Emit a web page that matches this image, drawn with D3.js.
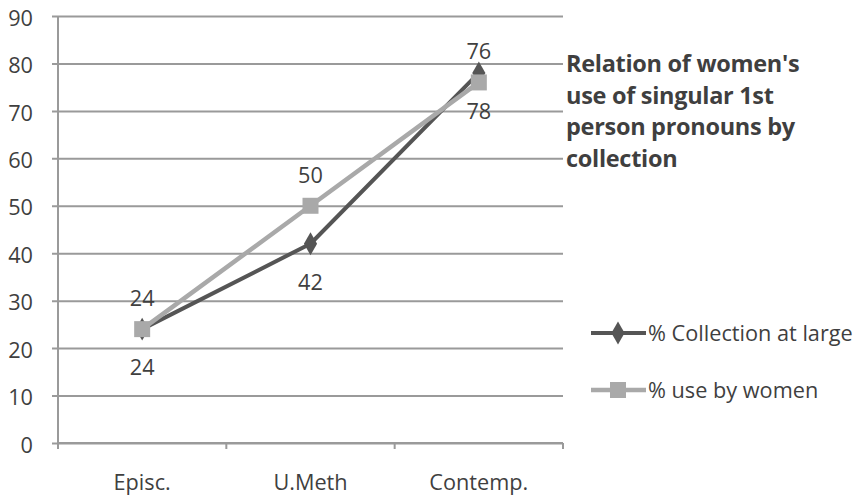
<!DOCTYPE html>
<html>
<head>
<meta charset="utf-8">
<script src="https://cdn.jsdelivr.net/npm/d3@7"></script>
<style>
  html, body { margin: 0; padding: 0; background: #fff; }
  svg { display: block; font-family: "Open Sans", Lato, sans-serif; }
</style>
</head>
<body>
<svg id="chart" width="860" height="495"></svg>
<script>
// Collections compared
const categories = ["Episc.", "U.Meth", "Contemp."];
// Percent values for each series
const collectionAtLarge = [24, 42, 78];
const useByWomen = [24, 50, 76];
const seriesNames = ["% Collection at large", "% use by women"];
const yTicks = [0, 10, 20, 30, 40, 50, 60, 70, 80, 90];
const titleLines = ["Relation of women's", "use of singular 1st", "person pronouns by", "collection"];

const svg = d3.select("#chart");
const plot = { left: 58, right: 563, top: 16, bottom: 443 };
const textColor = "#3f3f3f";
const gridColor = "#9a9a9a";
const darkColor = "#555555";
const lightColor = "#a9a9a9";
const fontSize = 21.7;

const x = d3.scaleBand().domain(categories).range([plot.left, plot.right]).padding(0);
const y = d3.scaleLinear().domain([0, 90]).range([plot.bottom, plot.top]);

// Horizontal gridlines with left tick marks and labels
const yAxis = d3.axisLeft(y).tickValues(yTicks).tickSize(-(plot.right - plot.left)).tickPadding(25);
const gy = svg.append("g").attr("transform", `translate(${plot.left},0)`).call(yAxis);
gy.select(".domain").remove();
gy.selectAll(".tick line").attr("x1", -6).attr("stroke", gridColor).attr("stroke-width", 2);
gy.selectAll(".tick text").attr("fill", textColor).attr("font-size", fontSize)
  .attr("font-family", "Open Sans").attr("dy", "0.42em");

// Vertical axis line
svg.append("line")
  .attr("x1", plot.left).attr("x2", plot.left)
  .attr("y1", plot.top).attr("y2", plot.bottom + 6)
  .attr("stroke", gridColor).attr("stroke-width", 2);

// Category axis with boundary ticks
svg.append("line")
  .attr("x1", plot.left).attr("x2", plot.right)
  .attr("y1", plot.bottom).attr("y2", plot.bottom)
  .attr("stroke", gridColor).attr("stroke-width", 2);
const boundaries = categories.map(c => x(c)).concat([x(categories[categories.length - 1]) + x.bandwidth()]);
svg.append("g").selectAll("line").data(boundaries).join("line")
  .attr("x1", d => d).attr("x2", d => d)
  .attr("y1", plot.bottom).attr("y2", plot.bottom + 6)
  .attr("stroke", gridColor).attr("stroke-width", 2);
svg.append("g").selectAll("text").data(categories).join("text")
  .attr("x", d => x(d) + x.bandwidth() / 2)
  .attr("y", 490)
  .attr("text-anchor", "middle")
  .attr("fill", textColor)
  .attr("font-size", fontSize)
  .text(d => d);

const cx = c => x(c) + x.bandwidth() / 2;
const line = d3.line().x((d, i) => cx(categories[i])).y(d => y(d));

// Series 1: dark line with diamonds
svg.append("path").datum(collectionAtLarge)
  .attr("d", line).attr("fill", "none")
  .attr("stroke", darkColor).attr("stroke-width", 4).attr("stroke-linejoin", "round");
const diamond = d3.symbol().type(d3.symbolDiamond).size(150);
svg.append("g").selectAll("path").data(collectionAtLarge).join("path")
  .attr("transform", (d, i) => `translate(${cx(categories[i])},${y(d)})`)
  .attr("d", diamond).attr("fill", darkColor);

// Series 2: light line with squares
svg.append("path").datum(useByWomen)
  .attr("d", line).attr("fill", "none")
  .attr("stroke", lightColor).attr("stroke-width", 4.5).attr("stroke-linejoin", "round");
svg.append("g").selectAll("rect").data(useByWomen).join("rect")
  .attr("x", (d, i) => cx(categories[i]) - 8)
  .attr("y", d => y(d) - 8)
  .attr("width", 16).attr("height", 16)
  .attr("fill", lightColor);

// Value labels: series 1 below, series 2 above
svg.append("g").selectAll("text").data(collectionAtLarge).join("text")
  .attr("x", (d, i) => cx(categories[i]))
  .attr("y", d => y(d) + 46)
  .attr("text-anchor", "middle").attr("fill", textColor).attr("font-size", fontSize)
  .text(d => d);
svg.append("g").selectAll("text").data(useByWomen).join("text")
  .attr("x", (d, i) => cx(categories[i]))
  .attr("y", d => y(d) - 23)
  .attr("text-anchor", "middle").attr("fill", textColor).attr("font-size", fontSize)
  .text(d => d);

// Title block to the right of the plot
svg.append("text")
  .attr("x", 566).attr("y", 72)
  .attr("fill", textColor).attr("font-size", 23.5).attr("font-weight", "bold")
  .attr("letter-spacing", -0.3)
  .selectAll("tspan").data(titleLines).join("tspan")
  .attr("x", 566).attr("dy", (d, i) => i === 0 ? 0 : 31.7)
  .text(d => d);

// Legend
const legend = svg.append("g");
const legendRows = [
  { name: seriesNames[0], y: 333, color: darkColor, marker: "diamond" },
  { name: seriesNames[1], y: 390, color: lightColor, marker: "square" }
];
legendRows.forEach(r => {
  legend.append("line")
    .attr("x1", 591).attr("x2", 646).attr("y1", r.y).attr("y2", r.y)
    .attr("stroke", r.color).attr("stroke-width", r.marker === "square" ? 4.5 : 4);
  if (r.marker === "diamond") {
    legend.append("path").attr("transform", `translate(618,${r.y})`).attr("d", diamond).attr("fill", r.color);
  } else {
    legend.append("rect").attr("x", 610).attr("y", r.y - 8).attr("width", 16).attr("height", 16).attr("fill", r.color);
  }
  legend.append("text")
    .attr("x", 648).attr("y", r.y + 8)
    .attr("fill", textColor).attr("font-size", fontSize)
    .text(r.name);
});
</script>
</body>
</html>
